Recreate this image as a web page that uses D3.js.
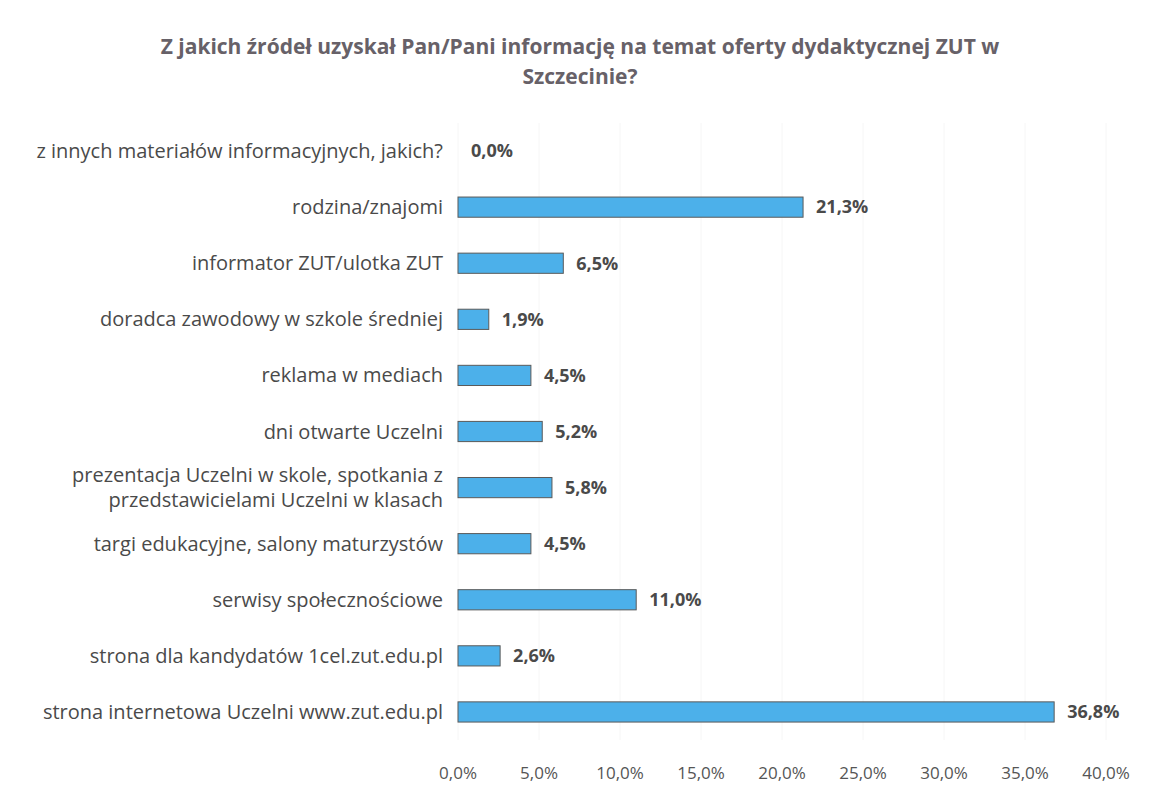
<!DOCTYPE html>
<html>
<head>
<meta charset="utf-8">
<script src="https://cdn.jsdelivr.net/npm/d3@7"></script>
<style>
  body { margin: 0; background: #fff; }
  text { font-family: "Open Sans", "Noto Sans", sans-serif; }
</style>
</head>
<body>
<svg id="chart"></svg>
<script>
// categories from top to bottom, values in percent
const categories = [
    "z innych materiałów informacyjnych, jakich?",
    "rodzina/znajomi",
    "informator ZUT/ulotka ZUT",
    "doradca zawodowy w szkole średniej",
    "reklama w mediach",
    "dni otwarte Uczelni",
    "prezentacja Uczelni w skole, spotkania z|przedstawicielami Uczelni w klasach",
    "targi edukacyjne, salony maturzystów",
    "serwisy społecznościowe",
    "strona dla kandydatów 1cel.zut.edu.pl",
    "strona internetowa Uczelni www.zut.edu.pl"
];
const values = [0.0, 21.3, 6.5, 1.9, 4.5, 5.2, 5.8, 4.5, 11.0, 2.6, 36.8];
const ticks = [0, 5, 10, 15, 20, 25, 30, 35, 40];
const titleLines = ["Z jakich źródeł uzyskał Pan/Pani informację na temat oferty dydaktycznej ZUT w", "Szczecinie?"];

const width = 1149;
const height = 796;
const fmt = v => v.toFixed(1).replace(".", ",") + "%";

const svg = d3.select("#chart")
    .attr("width", width)
    .attr("height", height);

const x = d3.scaleLinear()
    .domain([0, 40])
    .range([458, 1106]);

const y = d3.scaleBand()
    .domain(categories)
    .range([123, 740])
    .paddingInner(0.64)
    .paddingOuter(0.32);

// faint vertical gridlines
svg.append("g")
    .selectAll("line")
    .data(ticks)
    .join("line")
    .attr("x1", d => x(d))
    .attr("x2", d => x(d))
    .attr("y1", 123)
    .attr("y2", 740)
    .attr("stroke", "#f6f6f6")
    .attr("stroke-width", 1);

// title
svg.append("g")
    .selectAll("text")
    .data(titleLines)
    .join("text")
    .attr("x", 580)
    .attr("y", (d, i) => 54 + i * 30)
    .attr("text-anchor", "middle")
    .attr("font-size", 21)
    .attr("font-weight", "bold")
    .attr("fill", "#676168")
    .text(d => d);

// bars
svg.append("g")
    .selectAll("rect")
    .data(values)
    .join("rect")
    .attr("x", x(0))
    .attr("y", (d, i) => y(categories[i]))
    .attr("width", d => x(d) - x(0))
    .attr("height", y.bandwidth())
    .attr("fill", "#4cb0ea")
    .attr("stroke", d => d > 0 ? "#5a5a5a" : "none")
    .attr("stroke-width", 1);

// value labels
svg.append("g")
    .selectAll("text")
    .data(values)
    .join("text")
    .attr("x", d => x(d) + 13)
    .attr("y", (d, i) => y(categories[i]) + y.bandwidth() / 2)
    .attr("dy", "0.35em")
    .attr("font-size", 18)
    .attr("font-weight", "bold")
    .attr("fill", "#4a4a4a")
    .text(d => fmt(d));

// category labels
const labels = svg.append("g")
    .selectAll("text")
    .data(categories)
    .join("text")
    .attr("x", 443)
    .attr("y", d => y(d) + y.bandwidth() / 2)
    .attr("text-anchor", "end")
    .attr("font-size", 20)
    .attr("fill", "#4a4a4a");

labels.each(function(d) {
    const parts = d.split("|");
    const t = d3.select(this);
    parts.forEach((p, i) => {
        t.append("tspan")
            .attr("x", 443)
            .attr("dy", i === 0 ? (0.35 - (parts.length - 1) * 0.62) + "em" : "1.24em")
            .text(p);
    });
});

// x axis tick labels
svg.append("g")
    .selectAll("text")
    .data(ticks)
    .join("text")
    .attr("x", d => x(d))
    .attr("y", 779)
    .attr("text-anchor", "middle")
    .attr("font-size", 17)
    .attr("fill", "#555")
    .text(d => fmt(d));
</script>
</body>
</html>
